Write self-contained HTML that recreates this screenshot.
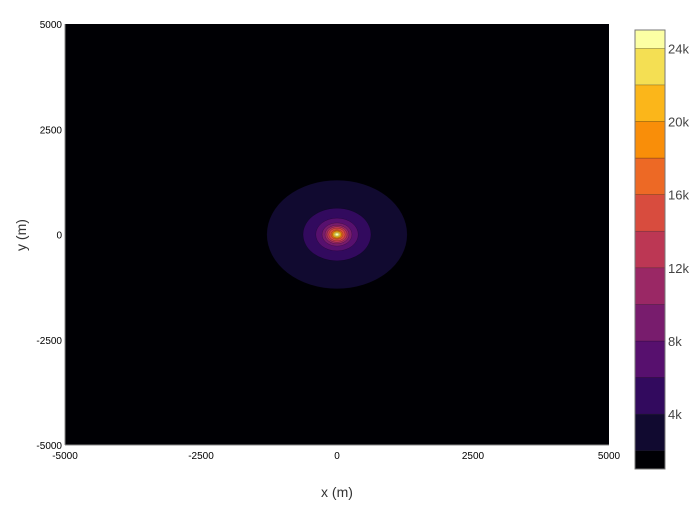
<!DOCTYPE html>
<html><head><meta charset="utf-8"><style>
body{margin:0;background:#fff;font-family:"Liberation Sans",Arial,sans-serif}
svg text{font-family:"Liberation Sans",Arial,sans-serif}
</style></head><body>
<svg id="chart" width="700" height="500" xmlns="http://www.w3.org/2000/svg">
<g id="plot"></g>
<g id="axes"></g>
<g id="cbar"></g>
<text x="337" y="497" font-size="14" fill="#333" text-anchor="middle">x (m)</text>
<text x="26" y="235" font-size="14" fill="#333" text-anchor="middle" transform="rotate(-90 26 235)">y (m)</text>
</svg>
<script>
const levels=[2000,4000,6000,8000,10000,12000,14000,16000,18000,20000,22000,24000];
const radii=[1290,625,390,275,220,185,150,110,90,75,55,35];
const bandColors=["#000004","#110a30","#320a5e","#57106e","#781c6d","#9a2865","#bc3754","#d84c3e","#ed6925","#f98e09","#fbb61a","#f4df53","#fcffa4"];
const xTicks=[-5000,-2500,0,2500,5000];
const yTicks=[-5000,-2500,0,2500,5000];
const cbTicks=[4000,8000,12000,16000,20000,24000];
const cbTickLabels=["4k","8k","12k","16k","20k","24k"];
const zMin=1000,zMax=25000;
const NS="http://www.w3.org/2000/svg";
const X0=65,X1=609,Y0=445,Y1=24;
const sx=v=>X0+(v+5000)/10000*(X1-X0);
const sy=v=>Y0-(v+5000)/10000*(Y0-Y1);
const CB0=469,CB1=30;
const cy=v=>CB0-(v-zMin)/(zMax-zMin)*(CB0-CB1);
function mk(t,a,p){const e=document.createElementNS(NS,t);for(const k in a)e.setAttribute(k,a[k]);p.appendChild(e);return e;}
const plot=document.getElementById('plot');
const bg=mk('rect',{x:X0,y:Y1,width:X1-X0,height:Y0-Y1,fill:bandColors[0]},plot);


levels.forEach((lv,i)=>{
  const el=mk('ellipse',{cx:sx(0),cy:sy(0),rx:sx(radii[i])-sx(0),ry:sy(0)-sy(radii[i]),fill:bandColors[i+1],stroke:"rgba(0,0,0,0.35)","stroke-width":0.5},plot);
  
  
});
const axes=document.getElementById('axes');
mk('line',{x1:X0,y1:Y1,x2:X0,y2:Y0,stroke:"#888","stroke-width":1},axes);
mk('line',{x1:X0,y1:Y0,x2:X1,y2:Y0,stroke:"#888","stroke-width":1},axes);
xTicks.forEach(t=>{
  const tx=mk('text',{x:sx(t),y:459,"font-size":10,fill:"#000","text-anchor":"middle"},axes);
  tx.textContent=t;
  
  
});
yTicks.forEach(t=>{
  const tx=mk('text',{x:62,y:sy(t)+4,"font-size":10,fill:"#000","text-anchor":"end"},axes);
  tx.textContent=t;
  
  
});
const cb=document.getElementById('cbar');
const edges=[zMin].concat(levels,[zMax]);
for(let i=0;i<bandColors.length;i++){
  const r=mk('rect',{x:635,y:cy(edges[i+1]),width:30,height:cy(edges[i])-cy(edges[i+1]),fill:bandColors[i],stroke:"rgba(0,0,0,0.4)","stroke-width":0.5},cb);
  
  
}
mk('rect',{x:635,y:CB1,width:30,height:CB0-CB1,fill:"none",stroke:"#777","stroke-width":1},cb);
cbTicks.forEach((t,i)=>{
  const tx=mk('text',{x:668,y:cy(t)+5,"font-size":13,fill:"#444"},cb);
  tx.textContent=cbTickLabels[i];
  
  
});
</script>
</body></html>
